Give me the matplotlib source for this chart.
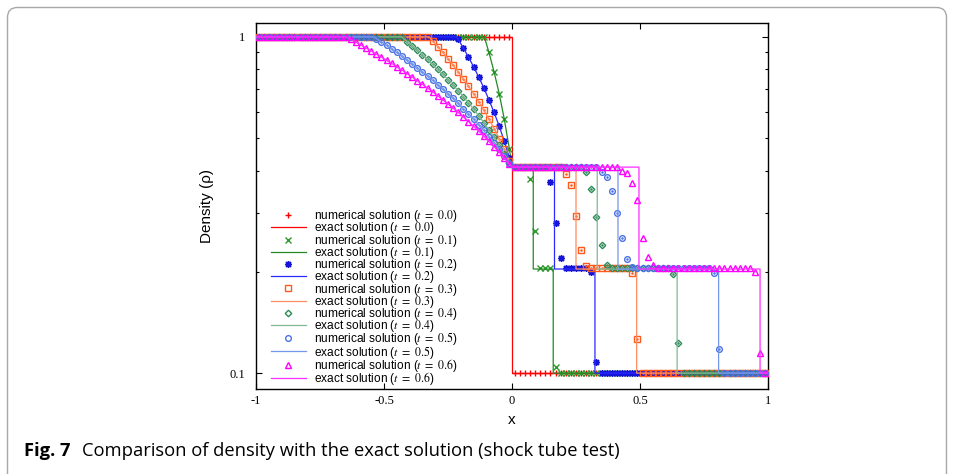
import matplotlib
matplotlib.use('Agg')
import matplotlib.pyplot as plt
from matplotlib.patches import FancyBboxPatch
import numpy as np

plt.rcParams.update({'font.family': 'Liberation Sans', 'mathtext.fontset': 'stix',
                     'axes.unicode_minus': False, 'axes.linewidth': 1.0})

# ---- data ----
TIMES = ['0.0', '0.1', '0.2', '0.3', '0.4', '0.5', '0.6']
X = np.linspace(-0.99, 0.99, 100)          # cell centres, 100 cells on [-1, 1]

RHO_T00 = [1.0]*50 + [0.1]*50
RHO_T01 = ([1.0]*45 + [0.899, 0.787, 0.678, 0.569, 0.463]
           + [0.41]*3 + [0.378, 0.265] + [0.205]*3 + [0.104] + [0.1]*41)
RHO_T02 = ([1.0]*39 + [0.983, 0.927, 0.871, 0.815, 0.760, 0.705, 0.650, 0.596, 0.543, 0.489, 0.436]
           + [0.41]*7 + [0.37, 0.28, 0.22] + [0.205]*5 + [0.200, 0.108] + [0.1]*33)
RHO_T03 = ([1.0]*34 + [0.974, 0.936, 0.899, 0.861, 0.824, 0.787, 0.751, 0.714, 0.678, 0.641,
                       0.605, 0.569, 0.534, 0.498, 0.463, 0.428]
           + [0.41]*10 + [0.39, 0.363, 0.294, 0.233, 0.208] + [0.205]*8 + [0.198, 0.126] + [0.1]*25)
RHO_T04 = ([1.0]*29 + [0.969, 0.941, 0.913, 0.885, 0.857, 0.829, 0.801, 0.774, 0.746, 0.719, 0.691,
                       0.664, 0.637, 0.610, 0.583, 0.556, 0.529, 0.503, 0.476, 0.450, 0.423]
           + [0.41]*14 + [0.396, 0.352, 0.292, 0.240, 0.210] + [0.205]*12 + [0.197, 0.123] + [0.1]*17)
RHO_T05 = ([1.0]*23 + [0.989, 0.966, 0.944, 0.921, 0.899, 0.876, 0.854, 0.832, 0.810, 0.787, 0.765,
                       0.743, 0.721, 0.699, 0.678, 0.656, 0.634, 0.612, 0.591, 0.569, 0.548, 0.527,
                       0.505, 0.484, 0.463, 0.442, 0.421]
           + [0.41]*17 + [0.397, 0.384, 0.349, 0.300, 0.252, 0.218, 0.207] + [0.205]*15
           + [0.198, 0.118] + [0.1]*9)
RHO_T06 = ([1.0]*18 + [0.983, 0.965, 0.946, 0.927, 0.908, 0.889, 0.871, 0.852, 0.834, 0.815, 0.797,
                       0.778, 0.760, 0.741, 0.723, 0.705, 0.687, 0.668, 0.650, 0.632, 0.614, 0.596,
                       0.578, 0.560, 0.543, 0.525, 0.507, 0.489, 0.472, 0.454, 0.436, 0.419]
           + [0.41]*21 + [0.400, 0.393, 0.368, 0.327, 0.253, 0.221, 0.210] + [0.205]*19
           + [0.200, 0.115] + [0.1])
RHO_NUM = [RHO_T00, RHO_T01, RHO_T02, RHO_T03, RHO_T04, RHO_T05, RHO_T06]

# exact solution: rarefaction head, contact and shock positions, plateau densities
HEAD = [0.0, -0.108, -0.216, -0.323, -0.431, -0.539, -0.647]
CONTACT = [0.0, 0.083, 0.166, 0.250, 0.333, 0.414, 0.496]
SHOCK = [0.0, 0.161, 0.324, 0.487, 0.645, 0.807, 0.969]
RHO_L, RHO_2, RHO_3, RHO_R = 1.0, 0.41, 0.204, 0.1

XTICKS = [-1, -0.5, 0, 0.5, 1]
XTICKLABELS = ['-1', '-0.5', '0', '0.5', '1']
YTICKS = [0.1, 1]
YTICKLABELS = ['0.1', '1']
YMINOR = [0.2, 0.3, 0.4, 0.5, 0.6, 0.7, 0.8, 0.9]

# ---- style ----
MARK = ['+', 'x', (8, 2, 0), 's', 'D', 'o', '^']
MSIZE = [5, 4.2, 5, 3.9, 3.3, 4.1, 4.7]
MCOL = ['#ff0000', '#2e9a2e', '#1414d8', '#ff5a1e', '#2e8b57', '#4a72e6', '#ff00ff']
LCOL = ['#ff0000', '#238a23', '#2a2aff', '#ff8c62', '#80b896', '#7496ec', '#ff2cff']
DOT = [False, False, False, True, True, True, False]

W, H = 954, 474
fig = plt.figure(figsize=(W/100, H/100), dpi=100)
fig.patch.set_facecolor('white')
ax = fig.add_axes([256/W, 1-388.5/H, 512/W, 365.5/H])

for k, t in enumerate(TIMES):
    rho = np.array(RHO_NUM[k])
    ax.plot(X, rho, ls='none', marker=MARK[k], ms=MSIZE[k], mec=MCOL[k], mfc='none', mew=1.0,
            label=r'numerical solution ($\mathit{t\ =\ %s}$)' % t, zorder=2+2*k)
    if DOT[k]:
        ax.plot(X, rho, ls='none', marker='.', ms=1.6, color=MCOL[k], zorder=2+2*k)
    fan = (X < 0) & (rho < 1.0)
    xe = np.concatenate([[-1, HEAD[k]], X[fan], [0, CONTACT[k], CONTACT[k], SHOCK[k], SHOCK[k], 1]])
    ye = np.concatenate([[RHO_L, RHO_L], rho[fan], [RHO_2, RHO_2, RHO_3, RHO_3, RHO_R, RHO_R]])
    ax.plot(xe, ye, '-', color=LCOL[k], lw=0.9,
            label=r'exact solution ($\mathit{t\ =\ %s}$)' % t, zorder=3+2*k)

ax.set_yscale('log')
ax.set_xlim(-1, 1)
ax.set_ylim(0.09, 1.1)
ax.set_xticks(XTICKS)
ax.set_xticklabels(XTICKLABELS)
ax.set_yticks(YTICKS)
ax.set_yticklabels(YTICKLABELS)
ax.set_yticks(YMINOR, minor=True)
ax.yaxis.set_minor_formatter(matplotlib.ticker.NullFormatter())
ax.xaxis.set_minor_locator(matplotlib.ticker.NullLocator())
ax.tick_params(which='both', direction='in', top=True, right=True, width=0.8,
               labelsize=9, labelfontfamily='Liberation Serif', colors='black')
ax.tick_params(which='major', length=4)
ax.tick_params(which='minor', length=2.2)
ax.tick_params(axis='y', pad=8)
ax.tick_params(axis='x', pad=5)

fig.text(512/W, 1-420/H, 'x', ha='center', va='center', fontsize=11)
fig.text(207/W, 1-206/H, 'Density (ρ)', ha='center', va='center', rotation=90, fontsize=11)

ax.legend(loc='lower left', bbox_to_anchor=(0.029, 0.004), frameon=False, fontsize=8.6,
          handlelength=2.95, handletextpad=0.68, labelspacing=-0.317, borderpad=0, borderaxespad=0)

# caption panel
fig.add_artist(FancyBboxPatch((7.5, -30), 939, H-7.5+30, boxstyle='round,pad=0,rounding_size=10',
                              transform=None, fc='none', ec='#a8a8a8', lw=1.0))
fig.text(24/W, 1-451/H, 'Fig. 7', fontsize=13.2, fontweight='bold', family='Open Sans', va='center')
fig.text(82/W, 1-451/H, 'Comparison of density with the exact solution (shock tube test)',
         fontsize=13.2, family='Open Sans', va='center')

fig.savefig('out.png', dpi=100)
